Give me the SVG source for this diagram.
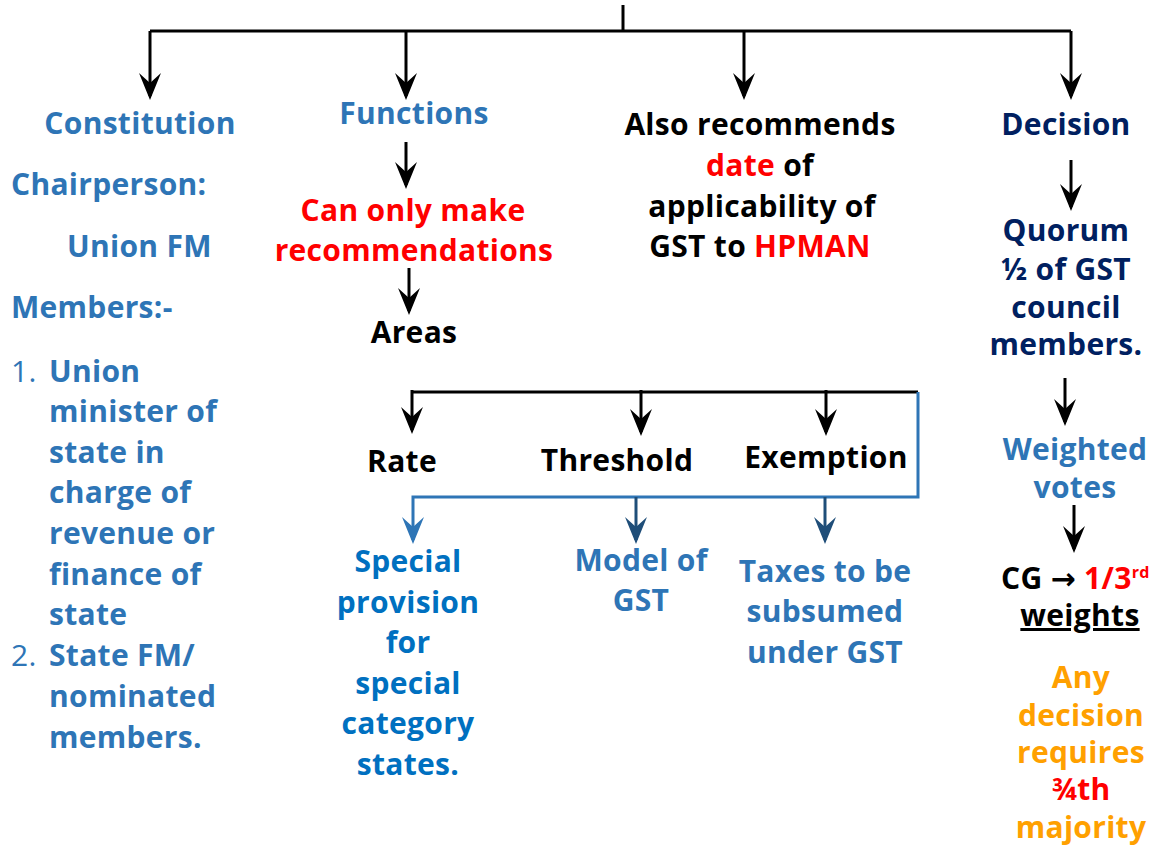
<svg xmlns="http://www.w3.org/2000/svg" width="1167" height="847" viewBox="0 0 1167 847">
  <style>
    text { font-family: "Open Sans", "DejaVu Sans", sans-serif; font-weight: 700; font-size: 30px; letter-spacing: 0.3px; }
    .c { text-anchor: middle; }
    .blue { fill: #2E75B6; }
    .sky { fill: #0070C0; }
    .navy { fill: #002060; }
    .red { fill: #FF0000; }
    .black { fill: #000000; }
    .orange { fill: #FFA000; }
    .num { font-weight: 400; }
    .ln { fill: none; stroke: #000; stroke-width: 3; }
    .lnb { fill: none; stroke: #2E75B6; stroke-width: 3; }
    .lnd { fill: none; stroke: #1F4E79; stroke-width: 3; }
  </style>
  <defs>
    <!-- barbed arrowhead, drawn pointing along +x; tip sits 4px past the line end -->
    <marker id="ahBlack" markerUnits="userSpaceOnUse" markerWidth="32" markerHeight="26" viewBox="-28 -13 32 26" refX="-4" refY="0" orient="auto">
      <path d="M0,0 L-27,-11 L-17,0 L-27,11 Z" fill="#000"/>
    </marker>
    <marker id="ahBlue" markerUnits="userSpaceOnUse" markerWidth="32" markerHeight="26" viewBox="-28 -13 32 26" refX="-4" refY="0" orient="auto">
      <path d="M0,0 L-27,-11 L-17,0 L-27,11 Z" fill="#2E75B6"/>
    </marker>
    <marker id="ahDark" markerUnits="userSpaceOnUse" markerWidth="32" markerHeight="26" viewBox="-28 -13 32 26" refX="-4" refY="0" orient="auto">
      <path d="M0,0 L-27,-11 L-17,0 L-27,11 Z" fill="#1F4E79"/>
    </marker>
  </defs>

  <g id="connectors">
    <!-- top bus -->
    <path class="ln" d="M623,5 V31"/>
    <path class="ln" d="M150,31 H1071"/>
    <path class="ln" d="M150,31 V96" marker-end="url(#ahBlack)"/>
    <path class="ln" d="M406,31 V96" marker-end="url(#ahBlack)"/>
    <path class="ln" d="M744,31 V96" marker-end="url(#ahBlack)"/>
    <path class="ln" d="M1071,31 V96" marker-end="url(#ahBlack)"/>
    <!-- functions chain -->
    <path class="ln" d="M406,142 V185" marker-end="url(#ahBlack)"/>
    <path class="ln" d="M409,268 V311" marker-end="url(#ahBlack)"/>
    <!-- areas bus -->
    <path class="ln" d="M412,392 H918"/>
    <path class="ln" d="M412,390 V430" marker-end="url(#ahBlack)"/>
    <path class="ln" d="M641,390 V432" marker-end="url(#ahBlack)"/>
    <path class="ln" d="M826,390 V432" marker-end="url(#ahBlack)"/>
    <!-- blue return bus -->
    <path class="lnb" d="M918,392 V497 H413 V540" marker-end="url(#ahBlue)"/>
    <path class="lnd" d="M636,497 V540" marker-end="url(#ahDark)"/>
    <path class="lnd" d="M825,497 V540" marker-end="url(#ahDark)"/>
    <!-- decision chain -->
    <path class="ln" d="M1071,160 V207" marker-end="url(#ahBlack)"/>
    <path class="ln" d="M1065,378 V422" marker-end="url(#ahBlack)"/>
    <path class="ln" d="M1074,505 V549" marker-end="url(#ahBlack)"/>
  </g>

  <g id="constitution">
    <text class="blue c" x="140" y="134">Constitution</text>
    <text class="blue" x="11" y="195">Chairperson:</text>
    <text class="blue" x="67" y="257">Union FM</text>
    <text class="blue" x="11" y="318">Members:-</text>
    <text class="blue num" x="11" y="382">1.</text>
    <text class="blue" x="49" y="382">Union</text>
    <text class="blue" x="49" y="422">minister of</text>
    <text class="blue" x="49" y="463">state in</text>
    <text class="blue" x="49" y="503">charge of</text>
    <text class="blue" x="49" y="544">revenue or</text>
    <text class="blue" x="49" y="585">finance of</text>
    <text class="blue" x="49" y="625">state</text>
    <text class="blue num" x="11" y="666">2.</text>
    <text class="blue" x="49" y="666">State FM/</text>
    <text class="blue" x="49" y="707">nominated</text>
    <text class="blue" x="49" y="748">members.</text>
  </g>

  <g id="functions">
    <text class="blue c" x="414" y="124">Functions</text>
    <text class="red c" x="413" y="221">Can only make</text>
    <text class="red c" x="414" y="261">recommendations</text>
    <text class="black c" x="414" y="343">Areas</text>
  </g>

  <g id="areas">
    <text class="black c" x="402" y="472">Rate</text>
    <text class="black c" x="617" y="471">Threshold</text>
    <text class="black c" x="826" y="468">Exemption</text>
  </g>

  <g id="special-provision">
    <text class="sky c" x="408" y="572">Special</text>
    <text class="sky c" x="408" y="613">provision</text>
    <text class="sky c" x="408" y="653">for</text>
    <text class="sky c" x="408" y="694">special</text>
    <text class="sky c" x="408" y="734">category</text>
    <text class="sky c" x="408" y="775">states.</text>
  </g>

  <g id="model-of-gst">
    <text class="blue c" x="641" y="571">Model of</text>
    <text class="blue c" x="641" y="611">GST</text>
  </g>

  <g id="taxes-subsumed">
    <text class="blue c" x="825" y="582">Taxes to be</text>
    <text class="blue c" x="825" y="622">subsumed</text>
    <text class="blue c" x="825" y="663">under GST</text>
  </g>

  <g id="also-recommends">
    <text class="black c" x="760" y="135">Also recommends</text>
    <text class="black c" x="760" y="176"><tspan class="red">date</tspan> of</text>
    <text class="black c" x="762" y="217">applicability of</text>
    <text class="black c" x="760" y="257">GST to <tspan class="red">HPMAN</tspan></text>
  </g>

  <g id="decision">
    <text class="navy c" x="1066" y="135">Decision</text>
    <text class="navy c" x="1066" y="241">Quorum</text>
    <text class="navy c" x="1066" y="280">½ of GST</text>
    <text class="navy c" x="1066" y="318">council</text>
    <text class="navy c" x="1066" y="355">members.</text>
    <text class="blue c" x="1075" y="460">Weighted</text>
    <text class="blue c" x="1075" y="498">votes</text>
    <text class="black" x="1001" y="589" font-size="28">CG → <tspan class="red">1/3</tspan><tspan class="red" font-size="16" dy="-11">rd</tspan></text>
    <text class="black c" x="1080" y="626" text-decoration="underline">weights</text>
    <text class="orange c" x="1081" y="688">Any</text>
    <text class="orange c" x="1081" y="726">decision</text>
    <text class="orange c" x="1081" y="763">requires</text>
    <text class="red c" x="1081" y="800">¾th</text>
    <text class="orange c" x="1081" y="838">majority</text>
  </g>
</svg>
